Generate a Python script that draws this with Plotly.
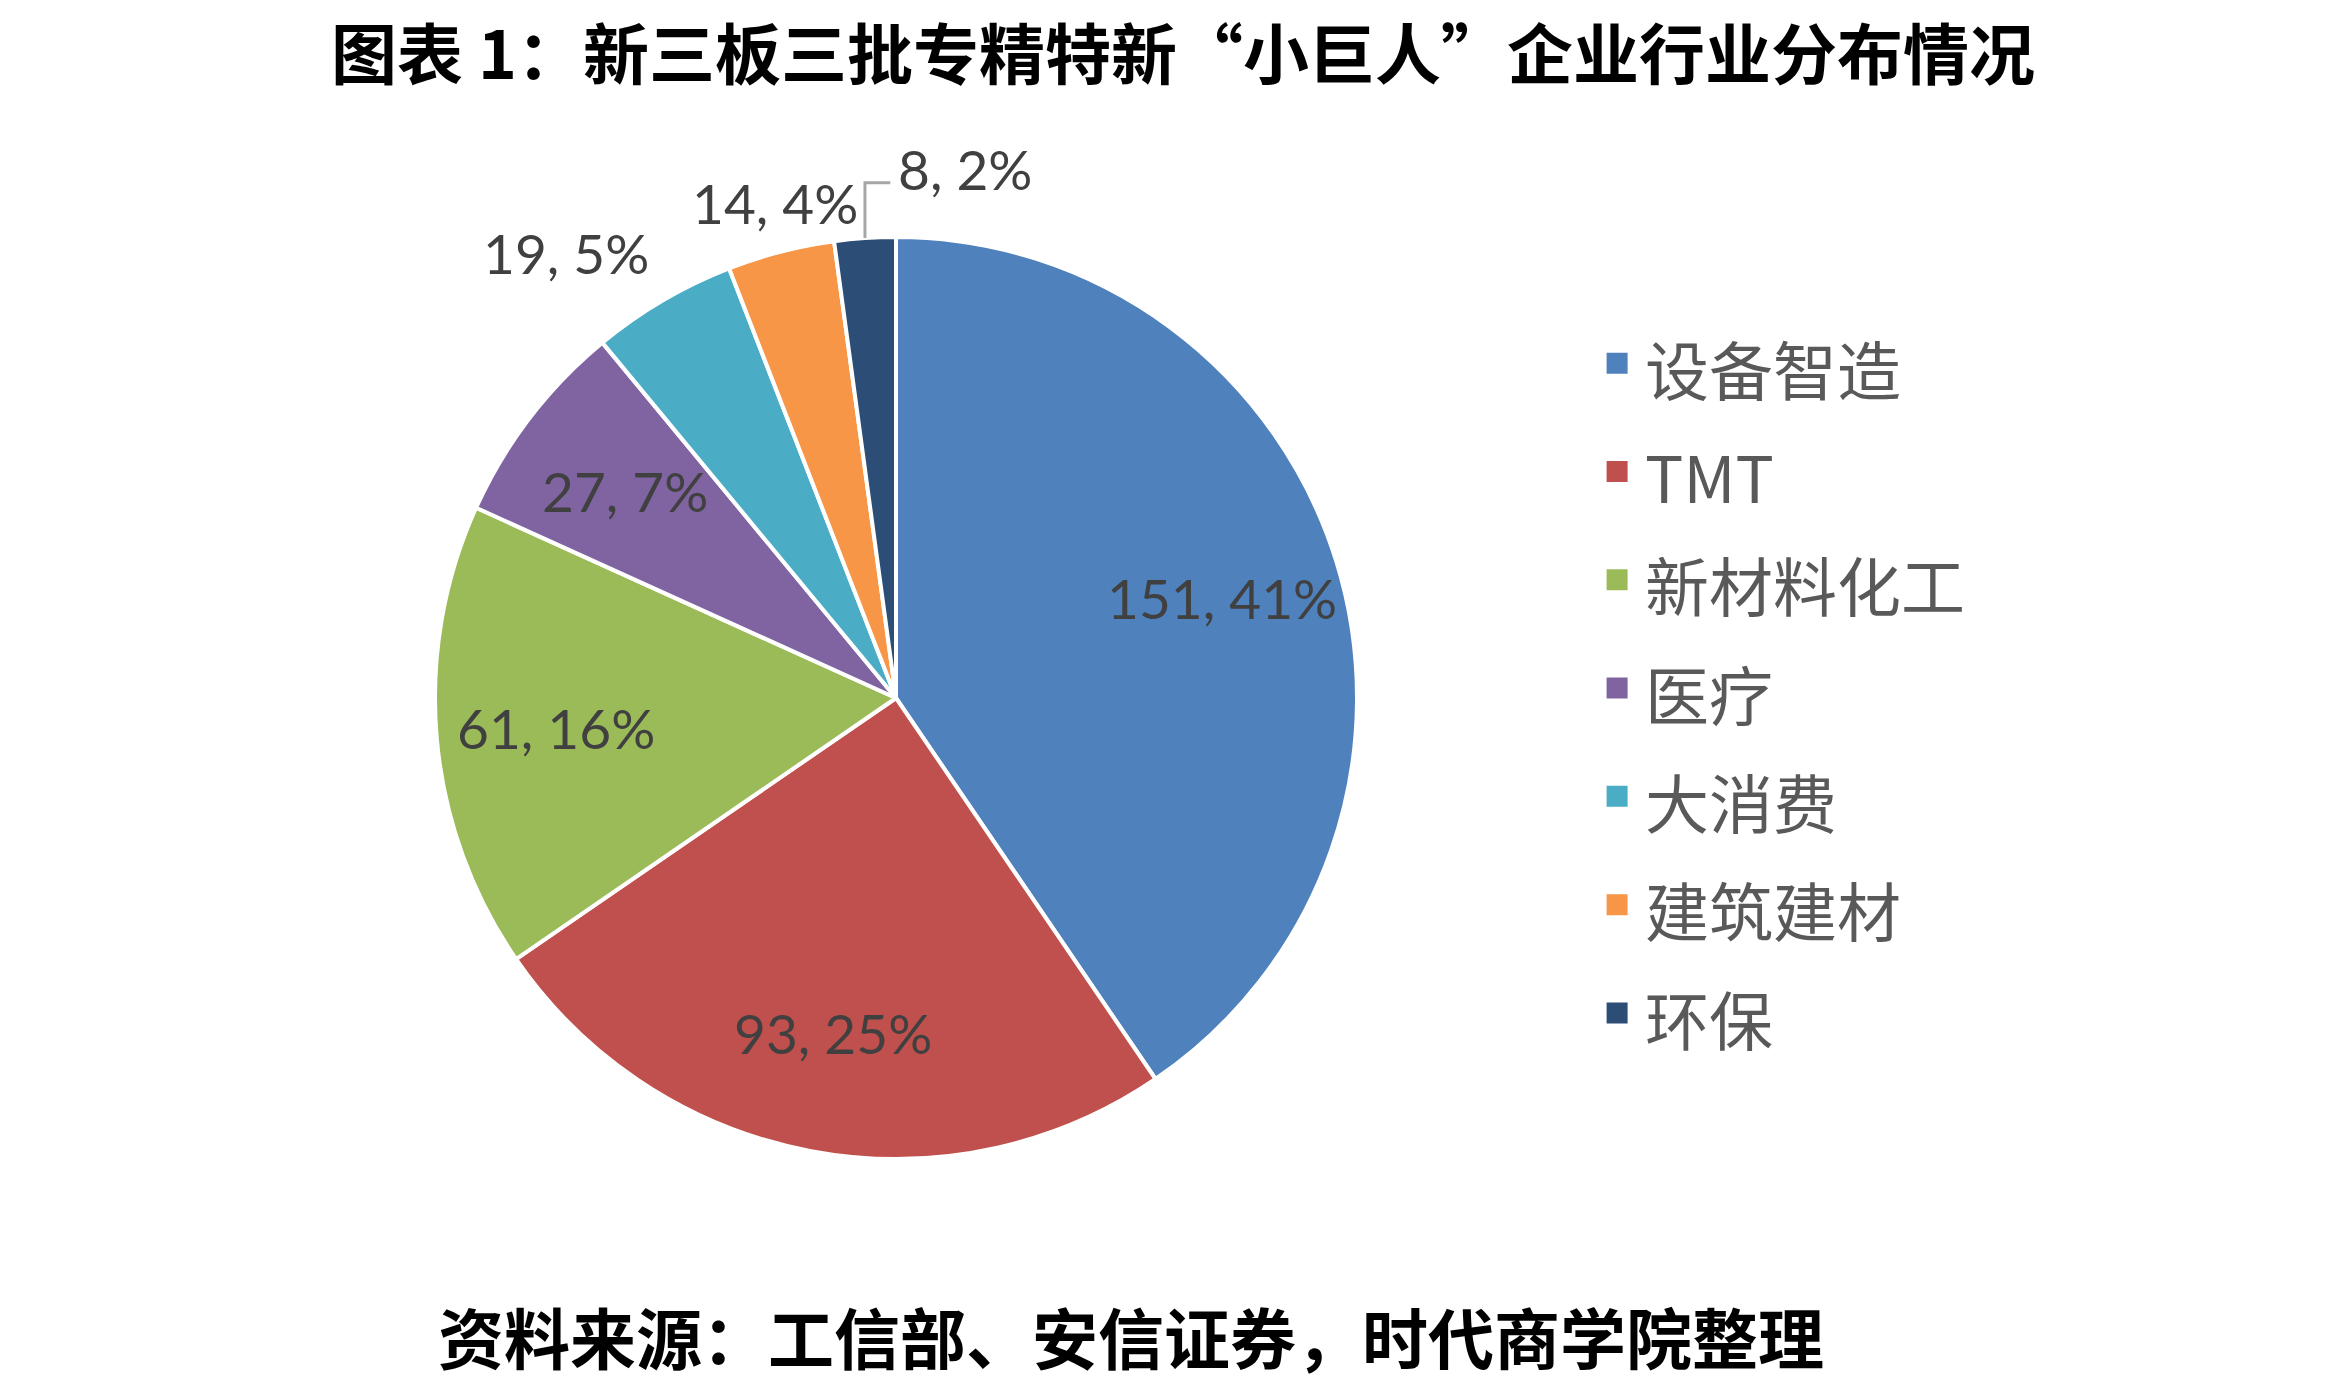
import math
import plotly.graph_objects as go

categories = ["设备智造", "TMT", "新材料化工", "医疗", "大消费", "建筑建材", "环保"]
counts = [151, 93, 61, 27, 19, 14, 8]
pct_labels = ["41%", "25%", "16%", "7%", "5%", "4%", "2%"]
colors = ["#4F81BD", "#C0504D", "#9BBB59", "#8064A2", "#4BACC6", "#F79646", "#2C4D75"]
inside_flags = [True, True, True, True, False, False, False]

title_text = "图表 1：新三板三批专精特新“小巨人”企业行业分布情况"
source_text = "资料来源：工信部、安信证券，时代商学院整理"

W, H = 2349, 1388
CX, CY, R = 896, 698, 461  # pie centre / radius in pixels
LABEL_FONT = dict(family="Lato, Open Sans, sans-serif", size=55, color="#404040")


def px(x):
    return x / W


def py(y):
    return 1 - y / H


fig = go.Figure()

fig.add_trace(go.Pie(
    labels=categories,
    values=counts,
    textinfo="none",
    sort=False,
    direction="clockwise",
    rotation=0,
    marker=dict(colors=colors, line=dict(color="white", width=4)),
    domain=dict(x=[px(CX - R), px(CX + R)], y=[py(CY + R), py(CY - R)]),
    hoverinfo="none",
    showlegend=False,
))

# legend entries (one per category)
for cat, col in zip(categories, colors):
    fig.add_trace(go.Scatter(
        x=[None], y=[None], mode="markers",
        name=f"<span style='font-size:64px'>{cat}</span>",
        marker=dict(symbol="square", size=16, color=col, line=dict(color=col, width=5)),
        showlegend=True,
    ))

# data labels placed from slice geometry
annotations = []
shapes = []
total = sum(counts)
cum = 0
for v, p, inside in zip(counts, pct_labels, inside_flags):
    mid = (cum + v / 2) / total * 2 * math.pi
    cum += v
    s, c = math.sin(mid), math.cos(mid)
    text = f"{v}, {p}"
    if inside:
        x, y = CX + 0.74 * R * s, CY - 0.74 * R * c
        annotations.append(dict(text=text, x=px(x), y=py(y), xref="paper", yref="paper",
                                xanchor="center", yanchor="middle", showarrow=False, font=LABEL_FONT))
    elif abs(s) < 0.1:
        # callout label with elbow leader line
        ex, ey = CX + R * s, CY - R * c
        ly = ey - 0.12 * R
        lx = ex + 0.055 * R
        shapes.append(dict(type="path", xref="paper", yref="paper",
                           path=f"M {px(ex)},{py(ey)} L {px(ex)},{py(ly)} L {px(lx)},{py(ly)}",
                           line=dict(color="#A6A6A6", width=3)))
        annotations.append(dict(text=text, x=px(lx + 6), y=py(ly - 14), xref="paper", yref="paper",
                                xanchor="left", yanchor="middle", showarrow=False, font=LABEL_FONT))
    else:
        x, y = CX + 1.05 * R * s, CY - 1.03 * R * c
        xa = "right" if s < -0.4 else ("left" if s > 0.4 else "center")
        annotations.append(dict(text=text, x=px(x), y=py(y), xref="paper", yref="paper",
                                xanchor=xa, yanchor="bottom", showarrow=False, font=LABEL_FONT))

annotations.append(dict(
    text=f"<b>{title_text}</b>", x=0.5038, y=py(50), xref="paper", yref="paper",
    xanchor="center", yanchor="middle", showarrow=False,
    font=dict(family="Noto Sans CJK SC", size=66, color="black"),
))
annotations.append(dict(
    text=f"<b>{source_text}</b>", x=0.4815, y=py(1335), xref="paper", yref="paper",
    xanchor="center", yanchor="middle", showarrow=False,
    font=dict(family="Noto Sans CJK SC", size=66, color="black"),
))

fig.update_layout(
    width=W, height=H,
    margin=dict(l=0, r=0, t=0, b=0),
    paper_bgcolor="white",
    plot_bgcolor="white",
    xaxis=dict(visible=False),
    yaxis=dict(visible=False),
    legend=dict(
        x=0.6765, y=py(304), xanchor="left", yanchor="top",
        itemwidth=46,
        font=dict(family="Noto Sans CJK SC", size=81, color="#595959"),
        bgcolor="rgba(0,0,0,0)",
    ),
    annotations=annotations,
    shapes=shapes,
)

fig.write_html("out.html")
